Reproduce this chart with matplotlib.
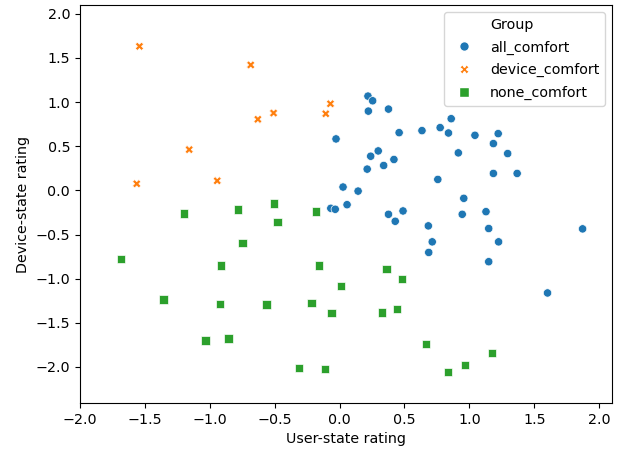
import matplotlib
matplotlib.use("Agg")
import matplotlib.pyplot as plt
from matplotlib.lines import Line2D
from matplotlib.ticker import MultipleLocator, FormatStrFormatter
import pandas as pd
import seaborn as sns

groups = ["all_comfort", "device_comfort", "none_comfort"]

all_x = [0.219, 0.255, 0.222, 0.377, -0.027, 0.459, 0.635, 0.775, 0.860, 0.839,
         1.043, 1.222, 1.185, 1.295, 0.915, 0.298, 0.240, 0.419, 0.340, 0.213,
         1.185, 1.368, 0.757, 0.027, 0.143, -0.067, -0.033, 0.058, 0.377, 0.429,
         0.489, 0.957, 0.945, 1.128, 1.149, 0.684, 0.714, 1.225, 0.687, 1.149,
         1.872, 1.602]
all_y = [1.068, 1.015, 0.898, 0.921, 0.583, 0.654, 0.677, 0.711, 0.812, 0.650,
         0.624, 0.643, 0.530, 0.417, 0.425, 0.447, 0.387, 0.350, 0.282, 0.241,
         0.192, 0.192, 0.124, 0.038, -0.008, -0.203, -0.214, -0.162, -0.271, -0.350,
         -0.233, -0.090, -0.271, -0.241, -0.432, -0.402, -0.583, -0.583, -0.703, -0.808,
         -0.436, -1.162]

device_x = [-1.541, -0.684, -0.070, -0.106, -0.508, -0.629, -1.158, -0.942, -1.562]
device_y = [1.632, 1.421, 0.981, 0.868, 0.876, 0.805, 0.462, 0.109, 0.075]

none_x = [-1.198, -0.784, -0.505, -0.477, -0.182, -0.748, -1.681, -0.912, -0.158,
          0.362, 0.483, 0.009, -1.356, -0.921, -0.562, -0.216, -0.061, 0.328,
          0.444, -1.033, -0.854, 0.666, 1.173, 0.964, 0.836, -0.313, -0.112]
none_y = [-0.263, -0.218, -0.150, -0.357, -0.241, -0.598, -0.774, -0.850, -0.850,
          -0.891, -1.004, -1.083, -1.237, -1.286, -1.293, -1.274, -1.391, -1.383,
          -1.342, -1.699, -1.677, -1.737, -1.842, -1.977, -2.056, -2.015, -2.026]

df = pd.DataFrame({
    "User-state rating": all_x + device_x + none_x,
    "Device-state rating": all_y + device_y + none_y,
    "Group": [groups[0]] * len(all_x) + [groups[1]] * len(device_x) + [groups[2]] * len(none_x),
})

colors = ["#1f77b4", "#ff7f0e", "#2ca02c"]
markers = ["o", "X", "s"]

plt.rcParams["font.size"] = 10.3

fig = plt.figure(figsize=(6.19, 4.55), dpi=100)
ax = fig.add_axes([0.129, 0.114, 0.860, 0.875])

sns.scatterplot(data=df, x="User-state rating", y="Device-state rating",
                hue="Group", style="Group", hue_order=groups, style_order=groups,
                palette=colors, markers=markers, legend=False, ax=ax)

ax.set_xlim(-2.0, 2.1)
ax.set_ylim(-2.41, 2.10)
ax.xaxis.set_major_locator(MultipleLocator(0.5))
ax.yaxis.set_major_locator(MultipleLocator(0.5))
ax.xaxis.set_major_formatter(FormatStrFormatter("%.1f"))
ax.yaxis.set_major_formatter(FormatStrFormatter("%.1f"))
# minus sign like the default formatter
ax.xaxis.set_major_formatter(plt.FuncFormatter(lambda v, p: f"{v:.1f}".replace("-", "\u2212")))
ax.yaxis.set_major_formatter(plt.FuncFormatter(lambda v, p: f"{v:.1f}".replace("-", "\u2212")))

# old seaborn style legend: "Group" as a blank entry
handles = [Line2D([], [], linestyle="none", marker="")]
labels = ["Group"]
for g, c, m in zip(groups, colors, markers):
    handles.append(Line2D([], [], linestyle="none", marker=m, color=c,
                          markeredgecolor="white", markersize=7))
    labels.append(g)
ax.legend(handles, labels, loc="upper right", labelspacing=0.6)

fig.savefig("out.png", dpi=100)
